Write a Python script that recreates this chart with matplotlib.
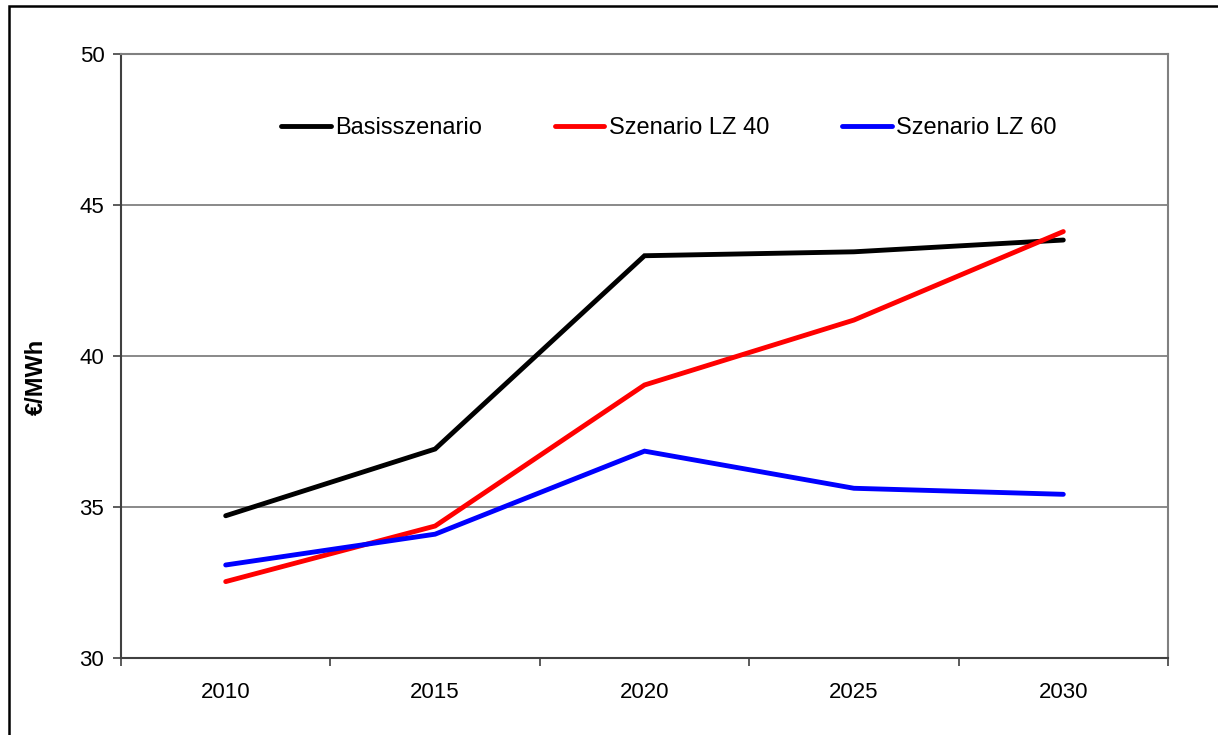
import matplotlib
matplotlib.use("Agg")
import matplotlib.pyplot as plt
from matplotlib.patches import Rectangle
import numpy as np

plt.rcParams['font.family'] = ['Liberation Sans', 'DejaVu Sans']

years = ['2010', '2015', '2020', '2025', '2030']
basis = [34.71, 36.92, 43.32, 43.45, 43.84]
lz40 = [32.53, 34.37, 39.04, 41.19, 44.12]
lz60 = [33.08, 34.10, 36.85, 35.62, 35.42]
series_names = ['Basisszenario', 'Szenario LZ 40', 'Szenario LZ 60']
series_colors = ['#000000', '#ff0000', '#0000ff']
yticks = [30, 35, 40, 45, 50]

W, H = 1218, 735
fig = plt.figure(figsize=(W / 100, H / 100), dpi=100)
ax = fig.add_axes([121 / W, 1 - 658 / H, (1168 - 121) / W, (658 - 54) / H])

x = np.arange(len(years))
for vals, name, col in zip([basis, lz40, lz60], series_names, series_colors):
    ax.plot(x, vals, color=col, lw=3.5, label=name, solid_capstyle='round',
            solid_joinstyle='miter', zorder=3)

ax.set_xlim(-0.5, len(years) - 0.5)
ax.set_ylim(30, 50)
ax.set_yticks(yticks)
ax.set_yticklabels([str(v) for v in yticks])
ax.set_xticks(x)
ax.set_xticklabels(years)
ax.set_xticks(np.arange(-0.5, len(years), 1.0), minor=True)

ax.tick_params(axis='x', which='major', length=0, pad=17, labelsize=16)
ax.tick_params(axis='x', which='minor', length=6, width=1.2, color='#404040', direction='out')
ax.tick_params(axis='y', which='major', length=6, width=1.2, color='#404040', direction='out',
               pad=6, labelsize=16)

for yv in yticks[1:-1]:
    ax.axhline(yv, color='#808080', lw=1.3, zorder=1)

ax.spines['left'].set_color('#404040')
ax.spines['bottom'].set_color('#404040')
ax.spines['top'].set_color('#808080')
ax.spines['right'].set_color('#808080')
for s in ax.spines.values():
    s.set_linewidth(1.5)

leg = ax.legend(loc='center left', bbox_to_anchor=(281 / W, 1 - 128 / H),
                bbox_transform=fig.transFigure, ncol=3, frameon=False,
                fontsize=17, handlelength=2.1, handletextpad=0.18,
                columnspacing=3.1, borderpad=0, borderaxespad=0)

fig.text(36 / W, 358 / H, '€/MWh', rotation=90, fontsize=17, fontweight='bold',
         ha='center', va='center')

fig.add_artist(Rectangle((8.5 / W, -0.1), 1.2, 1 - 5.5 / H + 0.1,
                         transform=fig.transFigure, fill=False, edgecolor='black',
                         lw=1.8, clip_on=False))

fig.savefig('out.png', dpi=100)
